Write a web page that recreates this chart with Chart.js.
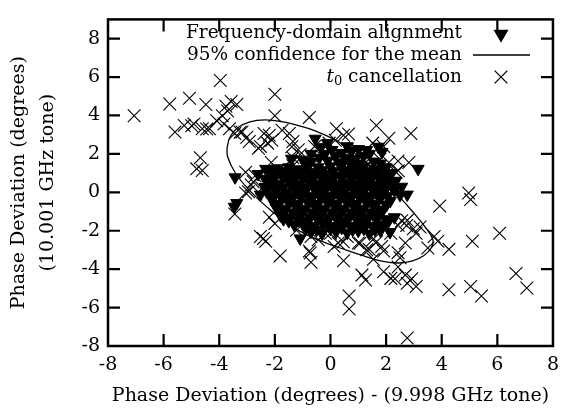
<!DOCTYPE html>
<html>
<head>
<meta charset="utf-8">
<script src="https://cdn.jsdelivr.net/npm/chart.js@4.4.0/dist/chart.umd.min.js"></script>
<style>
    html, body { margin: 0; padding: 0; background: #fff; }
    #wrap { width: 567px; height: 409px; }
</style>
</head>
<body>
<div id="wrap"><canvas id="chart1" width="567" height="409"></canvas></div>
<script>
// Rótulos
const xTitle = 'Phase Deviation (degrees) - (9.998 GHz tone)';
const yTitle = ['Phase Deviation (degrees)', '(10.001 GHz tone)'];
const seriesNames = ['Frequency-domain alignment', '95% confidence for the mean', 't0 cancellation'];

// Eixos
const xRange = [-8, 8];
const yRange = [-8, 9];
const tickStep = 2;

// Frequency-domain alignment (triângulos)
const freqAlign = [
    [-0.55, 2.79], [-0.11, 2.56], [-0.35, 2.35], [0.05, 2.2], [0.75, 2.15], [1.0, 2.25], [1.72, 2.37],
    [1.85, 2.1], [1.2, 1.9], [0.9, 1.75], [0.55, 1.8], [0.2, 1.9], [-0.7, 2.0], [-0.4, 1.8], [-1.0, 1.7],
    [-1.4, 1.75], [-0.1, 1.65], [1.55, 1.6], [2.0, 1.3], [2.2, 1.0], [3.15, 1.22], [-2.33, 1.22],
    [-2.6, 0.95], [-2.23, 1.2], [-1.9, 1.25], [-1.5, 1.3], [-1.2, 1.2], [-0.85, 1.4], [-0.45, 1.3],
    [0.0, 1.35], [0.4, 1.4], [0.8, 1.3], [1.2, 1.35], [1.6, 1.2],
    [-0.2, 2.0], [0.4, 2.05], [1.4, 2.0], [0.3, 1.55], [0.7, 1.6], [1.0, 1.5], [-0.7, 1.6], [1.8, 1.5],
    [0.6, 2.4], [1.3, 2.2],
    [-3.43, 0.78], [-3.37, -0.56], [-3.46, -0.75], [-2.52, -0.12], [-2.35, 0.28], [-1.69, -1.4],
    [-1.09, -2.4], [2.76, -0.12], [2.56, 0.29], [2.5, -0.14], [2.02, -0.64], [2.3, -1.3], [2.14, -2.07],
    [-2.0, 0.9], [-1.6, 0.95], [-1.25, 0.85], [-0.9, 0.95], [-0.55, 0.9], [-0.2, 0.95], [0.15, 0.85],
    [0.5, 0.95], [0.85, 0.9], [1.2, 0.85], [1.55, 0.9], [1.9, 0.75], [2.35, 0.6],
    [-2.2, 0.5], [-1.85, 0.45], [-1.5, 0.55], [-1.15, 0.45], [-0.8, 0.55], [-0.45, 0.45], [-0.1, 0.55],
    [0.25, 0.45], [0.6, 0.5], [0.95, 0.45], [1.3, 0.5], [1.65, 0.4], [2.0, 0.35],
    [-2.3, 0.05], [-1.95, 0.1], [-1.6, 0.0], [-1.25, 0.1], [-0.9, 0.05], [-0.55, 0.15], [-0.2, 0.05],
    [0.15, 0.1], [0.5, 0.0], [0.85, 0.1], [1.2, 0.05], [1.55, 0.1], [1.9, -0.05], [2.3, 0.1],
    [-2.1, -0.4], [-1.75, -0.3], [-1.4, -0.4], [-1.05, -0.3], [-0.7, -0.4], [-0.35, -0.3], [0.0, -0.4],
    [0.35, -0.3], [0.7, -0.4], [1.05, -0.3], [1.4, -0.4], [1.75, -0.3], [2.15, -0.45],
    [-1.95, -0.8], [-1.6, -0.85], [-1.25, -0.75], [-0.9, -0.85], [-0.55, -0.75], [-0.2, -0.85],
    [0.15, -0.75], [0.5, -0.85], [0.85, -0.75], [1.2, -0.85], [1.55, -0.75], [1.9, -0.9],
    [-1.8, -1.2], [-1.45, -1.3], [-1.1, -1.2], [-0.75, -1.3], [-0.4, -1.2], [-0.05, -1.3], [0.3, -1.2],
    [0.65, -1.3], [1.0, -1.2], [1.35, -1.3], [1.7, -1.2], [2.0, -1.4],
    [-1.3, -1.7], [-0.95, -1.65], [-0.6, -1.75], [-0.25, -1.65], [0.1, -1.75], [0.45, -1.65],
    [0.8, -1.75], [1.15, -1.65], [1.5, -1.75], [1.85, -1.7],
    [-0.7, -2.05], [-0.3, -2.15], [0.2, -2.05], [0.6, -2.1], [1.0, -2.0], [1.4, -2.15], [1.8, -2.0],
    [-2.1, 1.05], [-1.7, 1.1], [-1.35, 1.0], [-1.05, 1.1], [-0.7, 1.05], [-0.3, 1.15], [0.1, 1.1],
    [0.45, 1.15], [0.7, 1.1], [1.05, 1.05], [1.4, 1.1], [1.75, 1.0], [2.1, 0.85],
    [-2.35, 0.7], [-2.05, 0.65], [-1.7, 0.75], [-1.35, 0.7], [-1.0, 0.7], [-0.65, 0.75], [-0.3, 0.7],
    [0.05, 0.7], [0.4, 0.75], [0.75, 0.7], [1.1, 0.65], [1.45, 0.7], [1.8, 0.6], [2.15, 0.55],
    [-2.05, 0.3], [-1.7, 0.25], [-1.35, 0.3], [-1.0, 0.25], [-0.65, 0.35], [-0.3, 0.25], [0.05, 0.3],
    [0.4, 0.25], [0.75, 0.3], [1.1, 0.25], [1.45, 0.3], [1.8, 0.2], [2.2, 0.3],
    [-2.15, -0.15], [-1.8, -0.15], [-1.45, -0.2], [-1.1, -0.1], [-0.75, -0.2], [-0.4, -0.1], [-0.05, -0.2],
    [0.3, -0.1], [0.65, -0.2], [1.0, -0.1], [1.35, -0.2], [1.7, -0.1], [2.05, -0.2],
    [-1.85, -0.6], [-1.5, -0.55], [-1.15, -0.6], [-0.8, -0.55], [-0.45, -0.6], [-0.1, -0.55],
    [0.25, -0.6], [0.6, -0.55], [0.95, -0.6], [1.3, -0.55], [1.65, -0.6], [2.0, -0.65],
    [-1.7, -1.0], [-1.35, -1.05], [-1.0, -0.95], [-0.65, -1.05], [-0.3, -0.95], [0.05, -1.05],
    [0.4, -0.95], [0.75, -1.05], [1.1, -0.95], [1.45, -1.05], [1.8, -1.0],
    [-1.5, -1.5], [-1.15, -1.45], [-0.8, -1.5], [-0.45, -1.45], [-0.1, -1.5], [0.25, -1.45],
    [0.6, -1.5], [0.95, -1.45], [1.3, -1.5], [1.65, -1.45], [2.05, -1.6],
    [-0.9, -1.9], [-0.5, -1.95], [0.0, -1.9], [0.4, -1.85], [0.8, -1.95], [1.2, -1.9], [1.6, -1.95]
];

// Elipse de 95%
const ellipse = [
    [-3.72, 2.3], [-3.62, 2.85], [-3.35, 3.35], [-2.9, 3.67], [-2.35, 3.77], [-1.75, 3.68], [-1.15, 3.47],
    [-0.55, 3.2], [0.3, 2.62], [1.1, 1.78], [1.8, 0.85], [2.4, -0.1], [2.95, -1.0], [3.4, -1.8],
    [3.68, -2.45], [3.62, -2.9], [3.35, -3.3], [2.95, -3.57], [2.45, -3.68], [1.9, -3.6], [1.3, -3.36],
    [0.55, -3.0], [-0.35, -2.53], [-1.15, -1.98], [-2.1, -1.0], [-2.95, 0.15], [-3.43, 1.03],
    [-3.7, 1.85], [-3.72, 2.3]
];

// t0 cancellation (cruzes)
const t0Cancel = [
    [-7.06, 3.98], [-5.78, 4.60], [-5.07, 4.90], [-5.59, 3.14], [-5.26, 3.48], [-4.91, 3.56], [-4.61, 3.31],
    [-4.68, 1.80], [-4.81, 1.22], [-4.61, 1.13], [-4.48, 4.57], [-3.96, 5.82], [-4.09, 3.73], [-3.89, 3.98],
    [-3.70, 4.23], [-3.37, 4.57], [-3.76, 4.48], [-3.57, 4.73], [-2.00, 5.10], [-2.00, 3.98], [-0.76, 3.90],
    [-4.35, 3.31], [-3.83, 3.56], [-3.63, 3.31], [-3.44, 3.06], [-3.18, 3.14], [-2.92, 2.64], [-2.52, 2.39],
    [-2.26, 2.56], [-2.20, 2.97], [-2.39, 3.06], [-1.74, 3.23], [-1.48, 3.06], [-1.35, 2.64], [-1.16, 2.22],
    [-1.09, 1.97], [-1.35, 1.80], [0.21, 3.31], [0.47, 2.97], [1.65, 3.48], [2.10, 2.81], [2.89, 3.06],
    [1.52, 2.56], [1.91, 2.39], [2.43, 1.63], [2.82, 1.55], [-3.05, 1.05], [-2.85, 0.38], [-3.05, -0.04],
    [-2.78, 0.55], [-3.44, -1.13], [-2.52, -2.30], [-2.33, -2.55], [-2.41, -2.40], [-1.81, -3.31],
    [-2.00, -1.63], [-2.20, -1.30], [-0.76, -3.06], [-0.70, -3.64], [0.47, -3.56], [0.67, -5.40],
    [0.67, -6.07], [1.13, -4.31], [1.26, -4.56], [1.91, -4.14], [2.17, -4.48], [2.43, -3.89], [2.69, -4.31],
    [2.76, -4.73], [3.08, -4.90], [2.76, -7.58], [2.43, -3.14], [3.08, -2.13], [3.73, -2.30], [3.86, -2.55],
    [4.26, -2.97], [3.93, -0.71], [4.26, -5.07], [4.97, -0.04], [5.04, -0.38], [5.10, -2.55], [5.04, -4.90],
    [5.43, -5.40], [6.08, -2.13], [6.67, -4.23], [7.06, -4.98], [2.17, -2.13], [2.43, -1.72], [2.76, -1.46],
    [2.69, -2.64], [1.91, -3.06], [1.39, -2.97], [1.52, -2.47], [1.00, -2.64], [0.60, -2.30], [0.28, -2.64],
    [-0.18, -2.13], [-0.70, -2.30], [-1.22, -1.97], [-0.44, -2.47], [-1.35, 1.38], [-1.74, 1.05],
    [-2.00, 0.71], [-2.13, 1.55], [-2.46, 0.21], [-0.57, 2.39], [-0.31, 1.89], [-0.05, 2.56], [0.60, 2.22],
    [1.00, 2.05], [1.26, 1.55], [1.78, 1.72], [2.10, 1.55], [2.36, 1.05], [-2.11, 2.71], [-2.59, 2.29],
    [-1.39, 2.37], [-2.95, 0.03], [-2.71, 0.86], [0.13, -2.82], [2.56, -1.48], [2.44, 1.12], [0.17, 2.71],
    [0.65, 3.04], [1.54, -3.49], [2.50, -3.41], [3.5, -2.9], [2.74, -1.73], [2.98, -1.9], [3.22, -1.81],
    [1.66, -2.57], [1.84, -2.82], [1.06, -2.65], [1.30, -2.99], [0.46, -2.57], [-0.01, -2.15],
    [2.32, -4.5], [2.92, -4.5], [-0.73, -3.16], [-4.99, 3.46], [-4.45, 3.29], [-3.01, 2.87], [-3.25, 3.13]
];

const fontFamily = '"DejaVu Serif", serif';
const toXY = arr => arr.map(p => ({x: p[0], y: p[1]}));

// Moldura com marcas para dentro + legenda à direita (estilo gnuplot)
const gnuFrame = {
    id: 'gnuFrame',
    afterDraw(chart) {
        const ctx = chart.ctx;
        const area = chart.chartArea;
        const xs = chart.scales.x;
        const ys = chart.scales.y;
        const tl = 12;

        ctx.save();
        ctx.strokeStyle = '#000';
        ctx.lineWidth = 2.5;
        ctx.strokeRect(area.left, area.top, area.right - area.left, area.bottom - area.top);

        ctx.lineWidth = 2.2;
        ctx.beginPath();
        xs.ticks.forEach(t => {
            const px = xs.getPixelForValue(t.value);
            if (px <= area.left + 1 || px >= area.right - 1) return;
            ctx.moveTo(px, area.bottom); ctx.lineTo(px, area.bottom - tl);
            ctx.moveTo(px, area.top); ctx.lineTo(px, area.top + tl);
        });
        ys.ticks.forEach(t => {
            const py = ys.getPixelForValue(t.value);
            if (py <= area.top + 1 || py >= area.bottom - 1) return;
            ctx.moveTo(area.left, py); ctx.lineTo(area.left + tl, py);
            ctx.moveTo(area.right, py); ctx.lineTo(area.right - tl, py);
        });
        ctx.stroke();

        // Legenda
        const textRight = 462;
        const sampleX = 501;
        const rows = [33, 55, 77];
        const fs = 18.5;
        ctx.fillStyle = '#000';
        ctx.textBaseline = 'middle';

        chart.data.datasets.forEach((ds, i) => {
            const y = rows[i];
            const label = ds.label;
            if (label.startsWith('t0')) {
                const rest = label.slice(2);
                ctx.font = fs + 'px ' + fontFamily;
                const wRest = ctx.measureText(rest).width;
                ctx.font = '13px ' + fontFamily;
                const wSub = ctx.measureText('0').width;
                ctx.font = 'italic ' + fs + 'px ' + fontFamily;
                const wT = ctx.measureText('t').width;
                const x0 = textRight - wRest - wSub - wT;
                ctx.textAlign = 'left';
                ctx.fillText('t', x0, y);
                ctx.font = '13px ' + fontFamily;
                ctx.fillText('0', x0 + wT, y + 5);
                ctx.font = fs + 'px ' + fontFamily;
                ctx.fillText(rest, x0 + wT + wSub, y);
            } else {
                ctx.font = fs + 'px ' + fontFamily;
                ctx.textAlign = 'right';
                ctx.fillText(label, textRight, y);
            }

            if (ds.showLine) {
                ctx.lineWidth = 1.3;
                ctx.beginPath();
                ctx.moveTo(473, y);
                ctx.lineTo(530, y);
                ctx.stroke();
            } else {
                Chart.helpers.drawPoint(ctx, {
                    pointStyle: ds.pointStyle,
                    rotation: ds.rotation || 0,
                    radius: ds.pointStyle === 'triangle' ? 6.5 : ds.pointRadius,
                    borderWidth: ds.borderWidth
                }, sampleX, y + (ds.pointStyle === 'triangle' ? 1 : 0));
                ctx.fillStyle = '#000';
            }
        });
        ctx.restore();
    }
};

new Chart(document.getElementById('chart1'), {
    type: 'scatter',
    data: {
        datasets: [{
            label: seriesNames[0],
            data: toXY(freqAlign),
            pointStyle: 'triangle',
            rotation: 180,
            pointRadius: 7,
            backgroundColor: '#000',
            borderColor: '#000',
            borderWidth: 1,
            order: 3
        }, {
            label: seriesNames[1],
            data: toXY(ellipse),
            showLine: true,
            pointRadius: 0,
            borderColor: '#000',
            borderWidth: 1.3,
            tension: 0.4,
            fill: false,
            order: 2
        }, {
            label: seriesNames[2],
            data: toXY(t0Cancel),
            pointStyle: 'crossRot',
            pointRadius: 9,
            backgroundColor: '#000',
            borderColor: '#000',
            borderWidth: 1.1,
            order: 1
        }]
    },
    options: {
        responsive: false,
        animation: false,
        layout: { padding: { top: 7, right: 14, bottom: 0, left: 0 } },
        plugins: {
            legend: { display: false },
            tooltip: { enabled: false }
        },
        scales: {
            x: {
                type: 'linear',
                min: xRange[0],
                max: xRange[1],
                grid: { display: false, drawTicks: false },
                border: { display: false },
                ticks: { stepSize: tickStep, color: '#000', padding: 8, font: { family: fontFamily, size: 19 } },
                title: {
                    display: true,
                    text: xTitle,
                    color: '#000',
                    font: { family: fontFamily, size: 19, lineHeight: 1.2 },
                    padding: { top: 0, bottom: 2 }
                },
                afterFit(scale) { scale.height = 63; }
            },
            y: {
                type: 'linear',
                min: yRange[0],
                max: yRange[1],
                grid: { display: false, drawTicks: false },
                border: { display: false },
                ticks: { stepSize: tickStep, color: '#000', padding: 8, font: { family: fontFamily, size: 19 } },
                afterBuildTicks(scale) {
                    scale.ticks = scale.ticks.filter(t => t.value % tickStep === 0);
                },
                title: {
                    display: true,
                    text: yTitle,
                    color: '#000',
                    font: { family: fontFamily, size: 19, lineHeight: 1.5 },
                    padding: { top: 5, bottom: 0 }
                },
                afterFit(scale) { scale.width = 108; }
            }
        }
    },
    plugins: [gnuFrame]
});
</script>
</body>
</html>
